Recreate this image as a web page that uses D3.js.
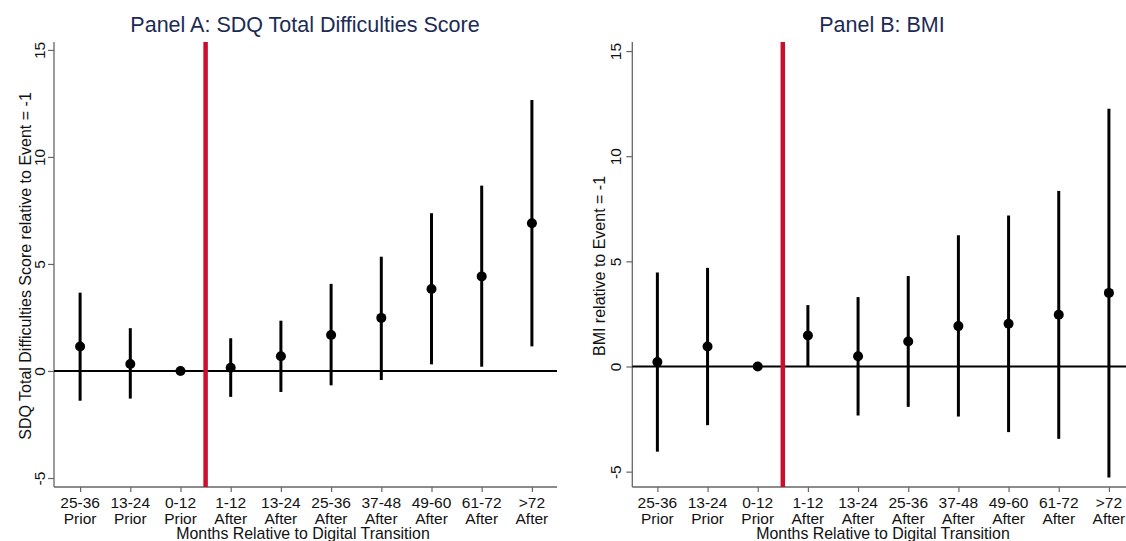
<!DOCTYPE html>
<html>
<head>
<meta charset="utf-8">
<script src="https://cdn.jsdelivr.net/npm/d3@7"></script>
<style>
  body { margin: 0; background: #fff; }
  svg { display: block; font-family: Arial, "Liberation Sans", sans-serif; }
</style>
</head>
<body>
<svg id="chart" width="1126" height="541"></svg>
<script>
const categoriesTop = ["25-36","13-24","0-12","1-12","13-24","25-36","37-48","49-60","61-72",">72"];
const categoriesBottom = ["Prior","Prior","Prior","After","After","After","After","After","After","After"];

const sdqEstimate = [1.14, 0.33, 0, 0.15, 0.69, 1.68, 2.48, 3.83, 4.42, 6.90];
const sdqUpper    = [3.66, 2.00, 0, 1.53, 2.35, 4.07, 5.34, 7.37, 8.66, 12.66];
const sdqLower    = [-1.39, -1.29, 0, -1.21, -0.98, -0.67, -0.42, 0.31, 0.20, 1.15];

const bmiEstimate = [0.21, 0.95, 0, 1.47, 0.49, 1.19, 1.92, 2.03, 2.46, 3.50];
const bmiUpper    = [4.47, 4.69, 0, 2.92, 3.30, 4.30, 6.24, 7.18, 8.35, 12.26];
const bmiLower    = [-4.05, -2.79, 0, 0.02, -2.33, -1.92, -2.38, -3.12, -3.44, -5.28];

const yTicks = [-5, 0, 5, 10, 15];
const eventPosition = 2.5;

const svg = d3.select("#chart");

function panel(opts) {
  const g = svg.append("g");
  const x = d3.scaleLinear().domain(opts.xDomain).range(opts.xRange);
  const y = d3.scaleLinear().domain(opts.yDomain).range([487, 42]);

  // title
  g.append("text")
    .attr("x", opts.titleX).attr("y", 32)
    .attr("text-anchor", "middle")
    .attr("font-size", 21.5)
    .attr("fill", "#1c2b55")
    .text(opts.title);

  // y axis
  const yAxis = d3.axisLeft(y).tickValues(yTicks).tickSize(6).tickFormat(d => String(d));
  const ya = g.append("g").attr("transform", `translate(${opts.xRange[0]},0)`).call(yAxis);
  ya.select(".domain").attr("stroke", "#666").attr("stroke-width", 1.3).attr("d", `M0,42V487`);
  ya.selectAll(".tick line").attr("stroke", "#666").attr("stroke-width", 1.2);
  ya.selectAll(".tick text")
    .attr("font-size", 15.5).attr("fill", "#111")
    .attr("x", null).attr("dy", null)
    .attr("text-anchor", "middle")
    .attr("transform", `translate(${-opts.tickOffset},0) rotate(-90)`);

  // y title
  g.append("text")
    .attr("transform", `translate(${opts.yTitleX},266) rotate(-90)`)
    .attr("text-anchor", "middle")
    .attr("font-size", 16)
    .attr("fill", "#111")
    .text(opts.yTitle);

  // x axis
  const idx = d3.range(categoriesTop.length);
  const xAxis = d3.axisBottom(x).tickValues(idx).tickSize(5).tickFormat("");
  const xa = g.append("g").attr("transform", `translate(0,487)`).call(xAxis);
  xa.select(".domain").attr("stroke", "#666").attr("stroke-width", 1.3).attr("d", `M${opts.xRange[0]},0H${opts.xRange[1]}`);
  xa.selectAll(".tick line").attr("stroke", "#666").attr("stroke-width", 1.2);
  const lab = g.append("g");
  idx.forEach(i => {
    lab.append("text").attr("x", x(i)).attr("y", 507.5).attr("text-anchor", "middle")
      .attr("font-size", 15.5).attr("fill", "#111").text(categoriesTop[i]);
    lab.append("text").attr("x", x(i)).attr("y", 523.5).attr("text-anchor", "middle")
      .attr("font-size", 15.5).attr("fill", "#111").text(categoriesBottom[i]);
  });
  g.append("text")
    .attr("x", opts.xTitleX).attr("y", 539)
    .attr("text-anchor", "middle").attr("font-size", 15.9).attr("fill", "#111")
    .text("Months Relative to Digital Transition");

  // zero line
  g.append("line")
    .attr("x1", opts.xRange[0]).attr("x2", opts.xRange[1])
    .attr("y1", y(0)).attr("y2", y(0))
    .attr("stroke", "#000").attr("stroke-width", 2);

  // event line
  g.append("line")
    .attr("x1", x(eventPosition)).attr("x2", x(eventPosition))
    .attr("y1", 42).attr("y2", 487)
    .attr("stroke", "#c8102e").attr("stroke-width", 4.5);

  // whiskers
  g.selectAll(".ci").data(idx).enter().append("line")
    .attr("x1", i => x(i)).attr("x2", i => x(i))
    .attr("y1", i => y(opts.lower[i])).attr("y2", i => y(opts.upper[i]))
    .attr("stroke", "#000").attr("stroke-width", 3);

  // points
  g.selectAll(".pt").data(idx).enter().append("circle")
    .attr("cx", i => x(i)).attr("cy", i => y(opts.est[i]))
    .attr("r", 5).attr("fill", "#000");
}

panel({
  title: "Panel A: SDQ Total Difficulties Score",
  titleX: 305,
  yTitle: "SDQ Total Difficulties Score relative to Event = -1",
  yTitleX: 31,
  tickOffset: 9,
  xTitleX: 303,
  xDomain: [-0.52, 9.5],
  xRange: [54, 557],
  yDomain: [-5.42, 15.37],
  est: sdqEstimate, upper: sdqUpper, lower: sdqLower
});

panel({
  title: "Panel B: BMI",
  titleX: 882,
  yTitle: "BMI relative to Event = -1",
  yTitleX: 605,
  tickOffset: 11,
  xTitleX: 883,
  xDomain: [-0.5, 9.5],
  xRange: [632.3, 1134],
  yDomain: [-5.73, 15.43],
  est: bmiEstimate, upper: bmiUpper, lower: bmiLower
});
</script>
</body>
</html>
